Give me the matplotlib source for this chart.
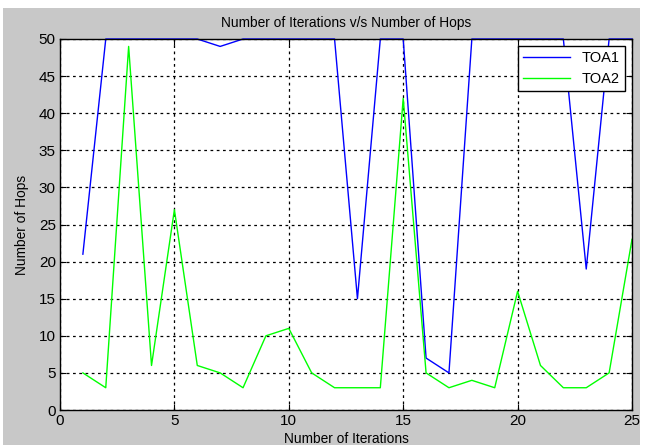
import matplotlib
matplotlib.use('Agg')
import matplotlib.pyplot as plt
from matplotlib.patches import Rectangle

# data
iterations = list(range(1, 26))
toa1 = [21, 50, 50, 50, 50, 50, 49, 50, 50, 50, 50, 50, 15, 50, 50,
        7, 5, 50, 50, 50, 50, 50, 19, 50, 50]
toa2 = [5, 3, 49, 6, 27, 6, 5, 3, 10, 11, 5, 3, 3, 3, 42,
        5, 3, 4, 3, 16, 6, 3, 3, 5, 23]
x_ticks = [0, 5, 10, 15, 20, 25]
y_ticks = list(range(0, 51, 5))

plt.rcParams['font.family'] = ['Liberation Sans', 'DejaVu Sans']

fig = plt.figure(figsize=(6.48, 4.45), dpi=100, facecolor='white')
# grey MATLAB-style figure panel
fig.patches.append(Rectangle((3 / 648, 0), 637 / 648, 1 - 8 / 445,
                             transform=fig.transFigure, facecolor='#c8c8c8',
                             edgecolor='none', zorder=-10))

ax = fig.add_axes([60 / 648, 1 - 410 / 445, 572 / 648, 371 / 445])
ax.set_facecolor('white')

ax.plot(iterations, toa1, color='#0000ff', linewidth=1.0, label='TOA1', clip_on=False)
ax.plot(iterations, toa2, color='#00ff00', linewidth=1.0, label='TOA2')

ax.set_xlim(0, 25)
ax.set_ylim(0, 50)
ax.set_xticks(x_ticks)
ax.set_yticks(y_ticks)
ax.tick_params(direction='in', length=4, top=True, right=True,
               labelsize=11, colors='black', pad=3)
ax.grid(True, color='black', linestyle=(0, (2.2, 2.8)), linewidth=0.9)
for s in ax.spines.values():
    s.set_linewidth(1.0)
    s.set_color('black')

ax.set_title('Number of Iterations v/s Number of Hops', fontsize=9.9, pad=9)
ax.set_xlabel('Number of Iterations', fontsize=9.9, labelpad=2.5)
ax.set_ylabel('Number of Hops', fontsize=9.9, labelpad=7)

leg = ax.legend(loc='upper right', fontsize=10.5, fancybox=False,
                framealpha=1, edgecolor='black', handlelength=3.2,
                borderaxespad=0.5, borderpad=0.35, labelspacing=0.45)
leg.get_frame().set_linewidth(1.0)

fig.savefig('out.png', dpi=100, facecolor=fig.get_facecolor())
